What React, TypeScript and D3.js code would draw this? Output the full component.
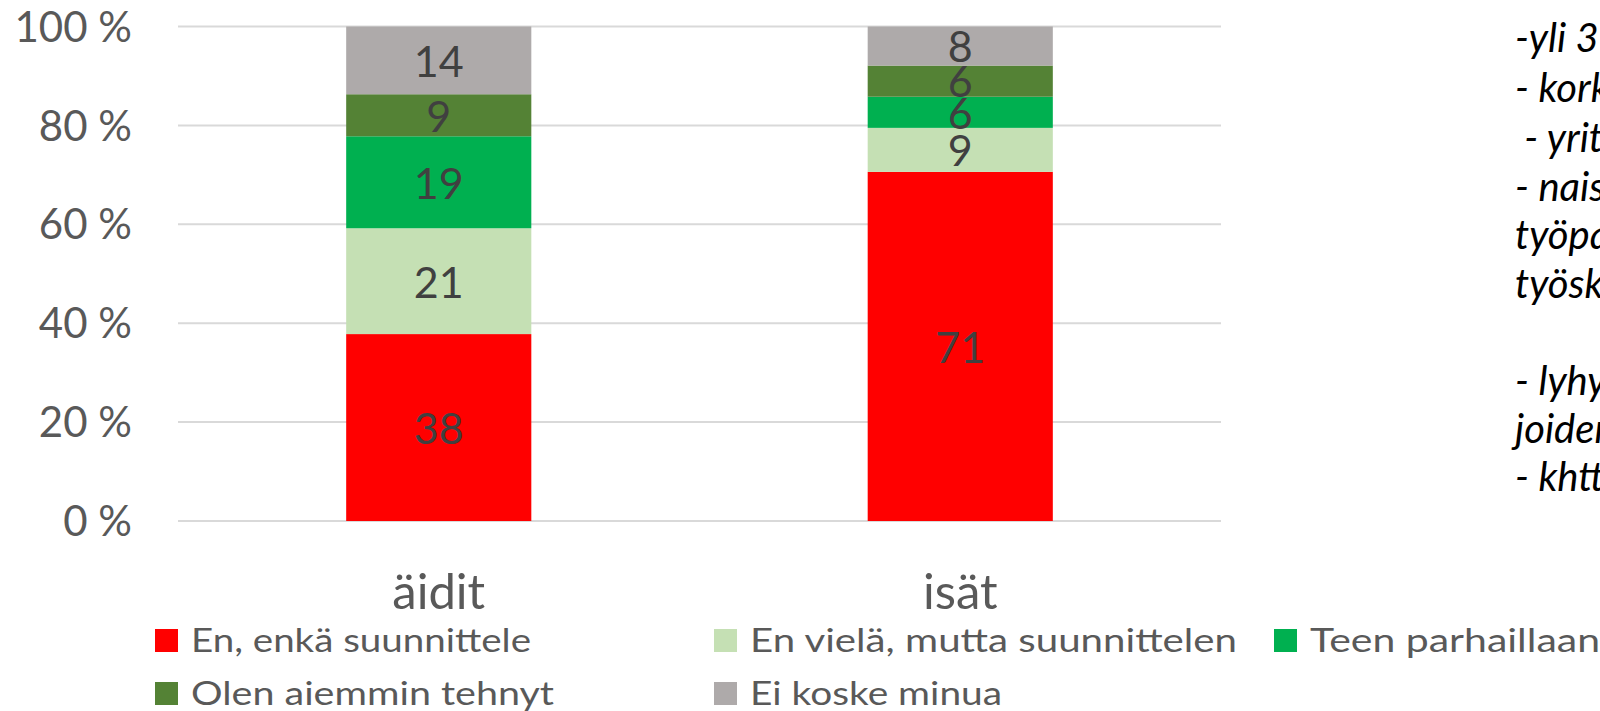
import * as d3 from 'd3';
import React from 'react';

// data
const categories = ['äidit', 'isät'];
const seriesNames = [
  'En, enkä suunnittele',
  'En vielä, mutta suunnittelen',
  'Teen parhaillaan',
  'Olen aiemmin tehnyt',
  'Ei koske minua',
];
const aiditValues = [37.8, 21.4, 18.6, 8.5, 13.7];
const isatValues = [70.6, 8.9, 6.3, 6.3, 7.9];
const seriesColors = ['#ff0000', '#c5e0b4', '#00b050', '#548235', '#aeaaaa'];
const yTicks = [0, 20, 40, 60, 80, 100];
const sideNotes = [
  '-yli 35-vuotiaat',
  '- korkeasti koulutetut',
  ' - yrittäjät',
  '- naiset, joiden',
  'työpaikalla',
  'työskentelee',
  '',
  '- lyhyesti',
  'joiden',
  '- khtt',
];

const FONT = "Lato, 'Open Sans', sans-serif";

export default function App() {
  const width = 1600;
  const height = 711;
  const plot = { left: 178, right: 1221, top: 26.5, bottom: 521 };

  const rows = categories.map((c, i) => {
    const vals = i === 0 ? aiditValues : isatValues;
    const row: any = { cat: c };
    seriesNames.forEach((s, j) => (row[s] = vals[j]));
    return row;
  });

  const stacked = d3.stack<any>().keys(seriesNames)(rows);

  const xScale = d3
    .scaleBand()
    .domain(categories)
    .range([plot.left, plot.right])
    .paddingInner(0.645)
    .paddingOuter(0.3225);

  const yScale = d3.scaleLinear().domain([0, 100]).range([plot.bottom, plot.top]);

  // legend layout (2 rows)
  const legendCols = [155, 714, 1274];
  const legendRows = [652, 705];
  const legendWidths = [340, 487, 290, 363, 252];

  const noteBaselines = [52, 102, 152, 201, 249, 298, 346, 395, 443, 491];

  return (
    <svg
      width={width}
      height={height}
      style={{ position: 'absolute', left: 0, top: 0, background: '#fff' }}
      fontFamily={FONT}
    >
      {/* gridlines */}
      {yTicks.map((t) => (
        <line
          key={t}
          x1={plot.left}
          x2={plot.right}
          y1={yScale(t)}
          y2={yScale(t)}
          stroke="#d9d9d9"
          strokeWidth={2}
        />
      ))}
      {/* y tick labels */}
      {yTicks.map((t) => (
        <text
          key={'l' + t}
          x={132}
          y={yScale(t)}
          dy="0.36em"
          textAnchor="end"
          fontSize={42}
          fill="#595959"
        >
          {t} %
        </text>
      ))}
      {/* bars */}
      {stacked.map((layer, si) => (
        <g key={layer.key} fill={seriesColors[si]}>
          {layer.map((d, ci) => (
            <rect
              key={ci}
              x={xScale(categories[ci])}
              width={xScale.bandwidth()}
              y={yScale(d[1])}
              height={yScale(d[0]) - yScale(d[1])}
            />
          ))}
        </g>
      ))}
      {/* data labels */}
      {stacked.map((layer) =>
        layer.map((d, ci) => (
          <text
            key={layer.key + ci}
            x={(xScale(categories[ci]) as number) + xScale.bandwidth() / 2}
            y={(yScale(d[0]) + yScale(d[1])) / 2}
            dy="0.38em"
            textAnchor="middle"
            fontSize={43}
            fill="#404040"
          >
            {Math.round(d[1] - d[0])}
          </text>
        ))
      )}
      {/* category labels */}
      {categories.map((c) => (
        <text
          key={c}
          x={(xScale(c) as number) + xScale.bandwidth() / 2}
          y={609}
          textAnchor="middle"
          fontSize={49}
          fill="#595959"
        >
          {c}
        </text>
      ))}
      {/* legend */}
      {seriesNames.map((s, i) => {
        const col = i < 3 ? i : i - 3;
        const row = i < 3 ? 0 : 1;
        const x = legendCols[col];
        const y = legendRows[row];
        return (
          <g key={s}>
            <rect x={x} y={y - 23} width={23} height={23} fill={seriesColors[i]} />
            <text
              x={x + 36}
              y={y}
              fontSize={33}
              fill="#595959"
              textLength={legendWidths[i]}
              lengthAdjust="spacingAndGlyphs"
            >
              {s}
            </text>
          </g>
        );
      })}
      {/* side notes, cut off by the right edge */}
      {sideNotes.map((n, i) => (
        <text
          key={i}
          x={1515}
          y={noteBaselines[i]}
          fontSize={40}
          fontStyle="italic"
          fill="#000"
          style={{ whiteSpace: 'pre' }}
        >
          {n}
        </text>
      ))}
    </svg>
  );
}
